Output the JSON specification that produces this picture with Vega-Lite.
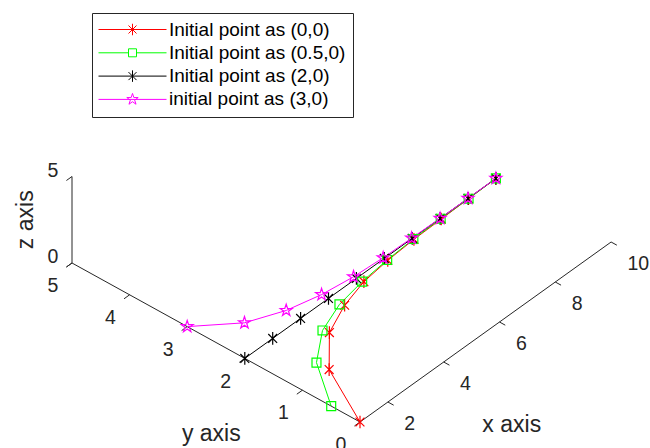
{
  "$schema": "https://vega.github.io/schema/vega-lite/v6.json",
  "width": 571,
  "height": 448,
  "autosize": {"type": "none"},
  "padding": {"left": 79, "top": 0, "right": 0, "bottom": 0},
  "background": "white",
  "config": {"view": {"stroke": null}, "font": "Liberation Sans"},
  "datasets": {
    "traj": [
      {"series": "Initial point as (0,0)", "x": 1, "y": 0, "z": 0},
      {"series": "Initial point as (0,0)", "x": 2, "y": 1.02, "z": 0},
      {"series": "Initial point as (0,0)", "x": 3, "y": 1.5, "z": 0.1},
      {"series": "Initial point as (0,0)", "x": 4, "y": 1.72, "z": 0.12},
      {"series": "Initial point as (0,0)", "x": 5, "y": 1.87, "z": 0.05},
      {"series": "Initial point as (0,0)", "x": 6, "y": 1.94, "z": 0},
      {"series": "Initial point as (0,0)", "x": 7, "y": 1.97, "z": 0},
      {"series": "Initial point as (0,0)", "x": 8, "y": 1.98, "z": 0},
      {"series": "Initial point as (0,0)", "x": 9, "y": 1.99, "z": 0},
      {"series": "Initial point as (0,0)", "x": 10, "y": 2.0, "z": 0},
      {"series": "Initial point as (0.5,0)", "x": 1, "y": 0.5, "z": 0},
      {"series": "Initial point as (0.5,0)", "x": 2, "y": 1.24, "z": 0},
      {"series": "Initial point as (0.5,0)", "x": 3, "y": 1.62, "z": 0},
      {"series": "Initial point as (0.5,0)", "x": 4, "y": 1.81, "z": 0},
      {"series": "Initial point as (0.5,0)", "x": 5, "y": 1.9, "z": 0},
      {"series": "Initial point as (0.5,0)", "x": 6, "y": 1.95, "z": 0},
      {"series": "Initial point as (0.5,0)", "x": 7, "y": 1.98, "z": 0},
      {"series": "Initial point as (0.5,0)", "x": 8, "y": 1.99, "z": 0},
      {"series": "Initial point as (0.5,0)", "x": 9, "y": 1.99, "z": 0},
      {"series": "Initial point as (0.5,0)", "x": 10, "y": 2.0, "z": 0},
      {"series": "Initial point as (2,0)", "x": 1, "y": 2, "z": 0},
      {"series": "Initial point as (2,0)", "x": 2, "y": 2, "z": 0},
      {"series": "Initial point as (2,0)", "x": 3, "y": 2, "z": 0},
      {"series": "Initial point as (2,0)", "x": 4, "y": 2, "z": 0},
      {"series": "Initial point as (2,0)", "x": 5, "y": 2, "z": 0},
      {"series": "Initial point as (2,0)", "x": 6, "y": 2, "z": 0},
      {"series": "Initial point as (2,0)", "x": 7, "y": 2, "z": 0},
      {"series": "Initial point as (2,0)", "x": 8, "y": 2, "z": 0},
      {"series": "Initial point as (2,0)", "x": 9, "y": 2, "z": 0},
      {"series": "Initial point as (2,0)", "x": 10, "y": 2, "z": 0},
      {"series": "initial point as (3,0)", "x": 1, "y": 3, "z": 0},
      {"series": "initial point as (3,0)", "x": 2, "y": 2.49, "z": 0},
      {"series": "initial point as (3,0)", "x": 3, "y": 2.25, "z": 0},
      {"series": "initial point as (3,0)", "x": 4, "y": 2.12, "z": 0},
      {"series": "initial point as (3,0)", "x": 5, "y": 2.05, "z": 0},
      {"series": "initial point as (3,0)", "x": 6, "y": 2.02, "z": 0},
      {"series": "initial point as (3,0)", "x": 7, "y": 2.01, "z": 0},
      {"series": "initial point as (3,0)", "x": 8, "y": 2.0, "z": 0},
      {"series": "initial point as (3,0)", "x": 9, "y": 2.0, "z": 0},
      {"series": "initial point as (3,0)", "x": 10, "y": 2.0, "z": 0}
    ],
    "axes": [
      {"axis": "x", "from": 1, "to": 10},
      {"axis": "y", "from": 0, "to": 5},
      {"axis": "z", "from": 0, "to": 5}
    ],
    "ticks": [
      {"axis": "x", "value": 2}, {"axis": "x", "value": 4}, {"axis": "x", "value": 6},
      {"axis": "x", "value": 8}, {"axis": "x", "value": 10},
      {"axis": "y", "value": 0}, {"axis": "y", "value": 1}, {"axis": "y", "value": 2},
      {"axis": "y", "value": 3}, {"axis": "y", "value": 4}, {"axis": "y", "value": 5},
      {"axis": "z", "value": 0}, {"axis": "z", "value": 5}
    ],
    "titles": [
      {"label": "x axis", "x": 5.5, "y": 0, "z": 0},
      {"label": "y axis", "x": 1, "y": 2.5, "z": 0},
      {"label": "z axis", "x": 1, "y": 5, "z": 2.5}
    ]
  },
  "layer": [
    {
      "data": {"name": "traj"},
      "transform": [
        {"filter": "datum.x == 1"},
        {"calculate": "27.9*(datum.x-1) - 57.6*datum.y", "as": "u"},
        {"calculate": "20*(datum.x-1) + 31.8*datum.y + 17.3*datum.z", "as": "v"}
      ],
      "mark": {"type": "point", "filled": false, "strokeWidth": 1, "opacity": 0},
      "encoding": {
        "x": {"field": "u", "type": "quantitative", "scale": {"domain": [-281, 290], "nice": false, "zero": false}, "axis": null},
        "y": {"field": "v", "type": "quantitative", "scale": {"domain": [-26, 422], "nice": false, "zero": false}, "axis": null},
        "stroke": {"field": "series", "type": "nominal",
          "scale": {"domain": ["Initial point as (0,0)", "Initial point as (0.5,0)", "Initial point as (2,0)", "initial point as (3,0)"], "range": ["#ff0000", "#00ff00", "#000000", "#ff00ff"]},
          "legend": {"title": null, "orient": "top-left", "offset": 13, "padding": 7, "rowPadding": 3.3, "symbolSize": 100, "symbolStrokeWidth": 1, "symbolOpacity": 1, "symbolOffset": 24, "labelOffset": 27, "labelFontSize": 19, "labelColor": "#000000", "labelFont": "Liberation Sans", "labelLimit": 400, "strokeColor": "#262626", "fillColor": "white", "cornerRadius": 0}},
        "shape": {"field": "series", "type": "nominal",
          "scale": {"domain": ["Initial point as (0,0)", "Initial point as (0.5,0)", "Initial point as (2,0)", "initial point as (3,0)"],
            "range": [
              "M-6.8,0H6.8M0,-1.15V1.15M-0.8,-0.8L0.8,0.8M-0.8,0.8L0.8,-0.8",
              "M-6.8,0H-0.8M0.8,0H6.8M-0.8,-0.8H0.8V0.8H-0.8Z",
              "M-6.8,0H6.8M0,-1.15V1.15M-0.8,-0.8L0.8,0.8M-0.8,0.8L0.8,-0.8",
              "M-6.8,0H6.8M0,-1.2L0.27,-0.37L1.14,-0.37L0.435,0.142L0.705,0.97L0,0.458L-0.705,0.97L-0.435,0.142L-1.14,-0.37L-0.27,-0.37Z"
            ]},
          "legend": {"title": null, "orient": "top-left", "offset": 13, "padding": 7, "rowPadding": 3.3, "symbolSize": 100, "symbolStrokeWidth": 1, "symbolOpacity": 1, "symbolOffset": 24, "labelOffset": 27, "labelFontSize": 19, "labelColor": "#000000", "labelFont": "Liberation Sans", "labelLimit": 400, "strokeColor": "#262626", "fillColor": "white", "cornerRadius": 0}}
      }
    },
    {
      "data": {"name": "axes"},
      "transform": [
        {"calculate": "datum.axis == 'x' ? datum.from : 1", "as": "X1"},
        {"calculate": "datum.axis == 'x' ? 0 : (datum.axis == 'y' ? datum.from : 5)", "as": "Y1"},
        {"calculate": "datum.axis == 'z' ? datum.from : 0", "as": "Z1"},
        {"calculate": "datum.axis == 'x' ? datum.to : 1", "as": "X2"},
        {"calculate": "datum.axis == 'x' ? 0 : (datum.axis == 'y' ? datum.to : 5)", "as": "Y2"},
        {"calculate": "datum.axis == 'z' ? datum.to : 0", "as": "Z2"},
        {"calculate": "27.9*(datum.X1-1) - 57.6*datum.Y1", "as": "u1"},
        {"calculate": "20*(datum.X1-1) + 31.8*datum.Y1 + 17.3*datum.Z1", "as": "v1"},
        {"calculate": "27.9*(datum.X2-1) - 57.6*datum.Y2", "as": "u2"},
        {"calculate": "20*(datum.X2-1) + 31.8*datum.Y2 + 17.3*datum.Z2", "as": "v2"}
      ],
      "mark": {"type": "rule", "color": "#262626", "strokeWidth": 1},
      "encoding": {
        "x": {"field": "u1", "type": "quantitative"},
        "y": {"field": "v1", "type": "quantitative"},
        "x2": {"field": "u2"},
        "y2": {"field": "v2"}
      }
    },
    {
      "data": {"name": "ticks"},
      "transform": [
        {"calculate": "datum.axis == 'x' ? datum.value : 1", "as": "X1"},
        {"calculate": "datum.axis == 'x' ? 0 : (datum.axis == 'y' ? datum.value : 5)", "as": "Y1"},
        {"calculate": "datum.axis == 'z' ? datum.value : 0", "as": "Z1"},
        {"calculate": "datum.axis == 'x' ? datum.X1 : datum.X1 - 0.2", "as": "X2"},
        {"calculate": "datum.axis == 'x' ? datum.Y1 - 0.1 : datum.Y1", "as": "Y2"},
        {"calculate": "27.9*(datum.X1-1) - 57.6*datum.Y1", "as": "u1"},
        {"calculate": "20*(datum.X1-1) + 31.8*datum.Y1 + 17.3*datum.Z1", "as": "v1"},
        {"calculate": "27.9*(datum.X2-1) - 57.6*datum.Y2", "as": "u2"},
        {"calculate": "20*(datum.X2-1) + 31.8*datum.Y2 + 17.3*datum.Z1", "as": "v2"}
      ],
      "mark": {"type": "rule", "color": "#262626", "strokeWidth": 1},
      "encoding": {
        "x": {"field": "u1", "type": "quantitative"},
        "y": {"field": "v1", "type": "quantitative"},
        "x2": {"field": "u2"},
        "y2": {"field": "v2"}
      }
    },
    {
      "data": {"name": "ticks"},
      "transform": [
        {"filter": "datum.axis == 'x'"},
        {"calculate": "27.9*(datum.value-1)", "as": "u"},
        {"calculate": "20*(datum.value-1)", "as": "v"}
      ],
      "mark": {"type": "text", "align": "left", "baseline": "alphabetic", "dx": 16.4, "dy": 27.8, "fontSize": 19.5, "color": "#262626"},
      "encoding": {
        "x": {"field": "u", "type": "quantitative"},
        "y": {"field": "v", "type": "quantitative"},
        "text": {"field": "value", "type": "quantitative", "format": "d"}
      }
    },
    {
      "data": {"name": "ticks"},
      "transform": [
        {"filter": "datum.axis == 'y'"},
        {"calculate": "-57.6*datum.value", "as": "u"},
        {"calculate": "31.8*datum.value", "as": "v"}
      ],
      "mark": {"type": "text", "align": "center", "baseline": "alphabetic", "dx": -19.1, "dy": 29.2, "fontSize": 19.5, "color": "#262626"},
      "encoding": {
        "x": {"field": "u", "type": "quantitative"},
        "y": {"field": "v", "type": "quantitative"},
        "text": {"field": "value", "type": "quantitative", "format": "d"}
      }
    },
    {
      "data": {"name": "ticks"},
      "transform": [
        {"filter": "datum.axis == 'z'"},
        {"calculate": "-57.6*5", "as": "u"},
        {"calculate": "31.8*5 + 17.3*datum.value", "as": "v"}
      ],
      "mark": {"type": "text", "align": "center", "baseline": "alphabetic", "dx": -19.2, "dy": 0.3, "fontSize": 19.5, "color": "#262626"},
      "encoding": {
        "x": {"field": "u", "type": "quantitative"},
        "y": {"field": "v", "type": "quantitative"},
        "text": {"field": "value", "type": "quantitative", "format": "d"}
      }
    },
    {
      "data": {"name": "titles"},
      "transform": [
        {"filter": "datum.label == 'x axis'"},
        {"calculate": "27.9*(datum.x-1) - 57.6*datum.y", "as": "u"},
        {"calculate": "20*(datum.x-1) + 31.8*datum.y + 17.3*datum.z", "as": "v"}
      ],
      "mark": {"type": "text", "align": "center", "baseline": "alphabetic", "dx": 26.2, "dy": 100.3, "fontSize": 23, "color": "#262626"},
      "encoding": {
        "x": {"field": "u", "type": "quantitative"},
        "y": {"field": "v", "type": "quantitative"},
        "text": {"field": "label"}
      }
    },
    {
      "data": {"name": "titles"},
      "transform": [
        {"filter": "datum.label == 'y axis'"},
        {"calculate": "27.9*(datum.x-1) - 57.6*datum.y", "as": "u"},
        {"calculate": "20*(datum.x-1) + 31.8*datum.y + 17.3*datum.z", "as": "v"}
      ],
      "mark": {"type": "text", "align": "center", "baseline": "alphabetic", "dx": -4.7, "dy": 98.5, "fontSize": 23, "color": "#262626"},
      "encoding": {
        "x": {"field": "u", "type": "quantitative"},
        "y": {"field": "v", "type": "quantitative"},
        "text": {"field": "label"}
      }
    },
    {
      "data": {"name": "titles"},
      "transform": [
        {"filter": "datum.label == 'z axis'"},
        {"calculate": "27.9*(datum.x-1) - 57.6*datum.y", "as": "u"},
        {"calculate": "20*(datum.x-1) + 31.8*datum.y + 17.3*datum.z", "as": "v"}
      ],
      "mark": {"type": "text", "align": "center", "baseline": "alphabetic", "angle": 270, "dx": 0, "dy": -39, "fontSize": 23, "color": "#262626"},
      "encoding": {
        "x": {"field": "u", "type": "quantitative"},
        "y": {"field": "v", "type": "quantitative"},
        "text": {"field": "label"}
      }
    },
    {
      "data": {"name": "traj"},
      "transform": [
        {"calculate": "27.9*(datum.x-1) - 57.6*datum.y", "as": "u"},
        {"calculate": "20*(datum.x-1) + 31.8*datum.y + 17.3*datum.z", "as": "v"}
      ],
      "mark": {"type": "line", "strokeWidth": 1},
      "encoding": {
        "x": {"field": "u", "type": "quantitative"},
        "y": {"field": "v", "type": "quantitative"},
        "order": {"field": "x", "type": "quantitative"},
        "color": {"field": "series", "type": "nominal", "legend": null,
          "scale": {"domain": ["Initial point as (0,0)", "Initial point as (0.5,0)", "Initial point as (2,0)", "initial point as (3,0)"], "range": ["#ff0000", "#00ff00", "#000000", "#ff00ff"]}}
      }
    },
    {
      "data": {"name": "traj"},
      "transform": [
        {"filter": "datum.series == 'Initial point as (0,0)' || datum.series == 'Initial point as (2,0)'"},
        {"calculate": "27.9*(datum.x-1) - 57.6*datum.y", "as": "u"},
        {"calculate": "20*(datum.x-1) + 31.8*datum.y + 17.3*datum.z", "as": "v"}
      ],
      "mark": {"type": "point", "filled": false, "strokeWidth": 1.2, "opacity": 1, "size": 160, "shape": "M0,-1V1M-0.7,-0.7L0.7,0.7M-0.7,0.7L0.7,-0.7"},
      "encoding": {
        "x": {"field": "u", "type": "quantitative"},
        "y": {"field": "v", "type": "quantitative"},
        "color": {"field": "series", "type": "nominal", "legend": null}
      }
    },
    {
      "data": {"name": "traj"},
      "transform": [
        {"filter": "datum.series == 'Initial point as (0.5,0)'"},
        {"calculate": "27.9*(datum.x-1) - 57.6*datum.y", "as": "u"},
        {"calculate": "20*(datum.x-1) + 31.8*datum.y + 17.3*datum.z", "as": "v"}
      ],
      "mark": {"type": "point", "filled": false, "strokeWidth": 1.2, "opacity": 1, "size": 80, "shape": "square"},
      "encoding": {
        "x": {"field": "u", "type": "quantitative"},
        "y": {"field": "v", "type": "quantitative"},
        "color": {"field": "series", "type": "nominal", "legend": null}
      }
    },
    {
      "data": {"name": "traj"},
      "transform": [
        {"filter": "datum.series == 'initial point as (3,0)'"},
        {"calculate": "27.9*(datum.x-1) - 57.6*datum.y", "as": "u"},
        {"calculate": "20*(datum.x-1) + 31.8*datum.y + 17.3*datum.z", "as": "v"}
      ],
      "mark": {"type": "point", "filled": false, "strokeWidth": 1.2, "opacity": 1, "size": 130, "shape": "M0,-1.1L0.247,-0.34L1.046,-0.34L0.399,0.13L0.647,0.89L0,0.42L-0.647,0.89L-0.399,0.13L-1.046,-0.34L-0.247,-0.34Z"},
      "encoding": {
        "x": {"field": "u", "type": "quantitative"},
        "y": {"field": "v", "type": "quantitative"},
        "color": {"field": "series", "type": "nominal", "legend": null}
      }
    }
  ]
}
